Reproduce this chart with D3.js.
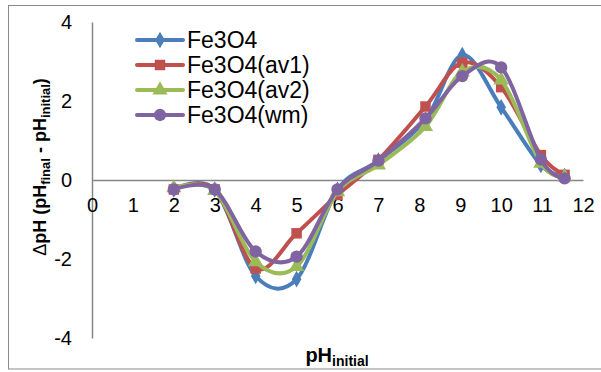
<!DOCTYPE html>
<html><head><meta charset="utf-8">
<script src="https://cdn.jsdelivr.net/npm/d3@7"></script>
<style>body{margin:0;background:#fff;} svg{display:block;font-family:Arial,"Liberation Sans",sans-serif;}</style>
</head><body>
<svg id="c" width="601" height="372"></svg>
<script>
const xValues = [2, 3, 4, 5, 6, 7, 8.15, 9.05, 10, 10.97, 11.55];
const seriesNames = ["Fe3O4", "Fe3O4(av1)", "Fe3O4(av2)", "Fe3O4(wm)"];
const fe3o4 = [-0.24, -0.24, -2.43, -2.51, -0.25, 0.49, 1.52, 3.16, 1.84, 0.38, 0.10];
const av1   = [-0.24, -0.24, -2.24, -1.35, -0.38, 0.51, 1.86, 2.97, 2.35, 0.63, 0.13];
const av2   = [-0.20, -0.27, -2.07, -2.19, -0.30, 0.38, 1.35, 2.74, 2.53, 0.42, 0.08];
const wm    = [-0.24, -0.24, -1.81, -1.94, -0.24, 0.49, 1.56, 2.63, 2.85, 0.52, 0.04];
const xTicks = [0,1,2,3,4,5,6,7,8,9,10,11,12];
const yTicks = [-4,-2,0,2,4];
const colors = ["#4A7EBB", "#C0504D", "#9BBB59", "#8064A2"];
const symbols = [d3.symbolDiamond, d3.symbolSquare, d3.symbolTriangle, d3.symbolCircle];
const symSizes = [80, 110, 100, 120];
const allSeries = [fe3o4, av1, av2, wm];

const svg = d3.select("#c");
svg.append("rect").attr("x",8.5).attr("y",5.5).attr("width",600).attr("height",363.5)
  .attr("fill","none").attr("stroke","#898989").attr("stroke-width",1);

const x = d3.scaleLinear().domain([0,12]).range([92, 583]);
const y = d3.scaleLinear().domain([-4,4]).range([338, 22]);
const axisColor = "#868686";
const fmt = d => String(d);

// y axis
const yAxis = svg.append("g").attr("transform","translate(92,0)")
  .call(d3.axisLeft(y).tickValues(yTicks).tickSize(0).tickPadding(20).tickFormat(fmt));
yAxis.select(".domain").attr("stroke",axisColor).attr("stroke-width",1.5);
yAxis.selectAll("text").attr("font-size",20).attr("fill","#000").attr("font-family","Arial,'Liberation Sans',sans-serif");

// x axis at y=0
const xAxis = svg.append("g").attr("transform",`translate(0,${y(0)})`)
  .call(d3.axisBottom(x).tickValues(xTicks).tickSize(0).tickPadding(18).tickFormat(fmt));
xAxis.select(".domain").attr("stroke",axisColor).attr("stroke-width",1.5);
xAxis.selectAll("text").attr("font-size",20).attr("fill","#000").attr("font-family","Arial,'Liberation Sans',sans-serif");

const line = d3.line().x(d=>x(d[0])).y(d=>y(d[1])).curve(d3.curveCatmullRom.alpha(0));
allSeries.forEach((s,i)=>{
  const pts = s.map((v,j)=>[xValues[j], v]);
  svg.append("path").datum(pts).attr("d",line).attr("fill","none")
    .attr("stroke",colors[i]).attr("stroke-width",4).attr("stroke-linejoin","round");
  svg.append("g").selectAll("path").data(pts).join("path")
    .attr("transform",d=>`translate(${x(d[0])},${y(d[1])})`)
    .attr("d",d3.symbol().type(symbols[i]).size(symSizes[i]))
    .attr("fill",colors[i]);
});

// legend
const leg = svg.append("g");
seriesNames.forEach((n,i)=>{
  const yy = 40 + i*25;
  leg.append("line").attr("x1",137).attr("x2",183).attr("y1",yy).attr("y2",yy)
    .attr("stroke",colors[i]).attr("stroke-width",4).attr("stroke-linecap","round");
  leg.append("path").attr("transform",`translate(160,${yy})`)
    .attr("d",d3.symbol().type(symbols[i]).size(symSizes[i])).attr("fill",colors[i]);
  leg.append("text").attr("x",187).attr("y",yy+8).attr("font-size",23).attr("fill","#000").text(n);
});

// x title
const xt = svg.append("text").attr("x",337).attr("y",362).attr("text-anchor","middle")
  .attr("font-weight","bold").attr("font-size",20);
xt.append("tspan").text("pH");
xt.append("tspan").attr("font-size",14).attr("dy",4).text("initial");

// y title
const yt = svg.append("text").attr("transform","translate(46,167) rotate(-90)").attr("text-anchor","middle")
  .attr("font-weight","bold").attr("font-size",18);
yt.append("tspan").attr("font-weight","normal").text("\u0394");
yt.append("tspan").text("pH (pH");
yt.append("tspan").attr("font-size",13).attr("dy",4).text("final");
yt.append("tspan").attr("dy",-4).text(" - pH");
yt.append("tspan").attr("font-size",13).attr("dy",4).text("initial");
yt.append("tspan").attr("dy",-4).text(")");
</script>
</body></html>
